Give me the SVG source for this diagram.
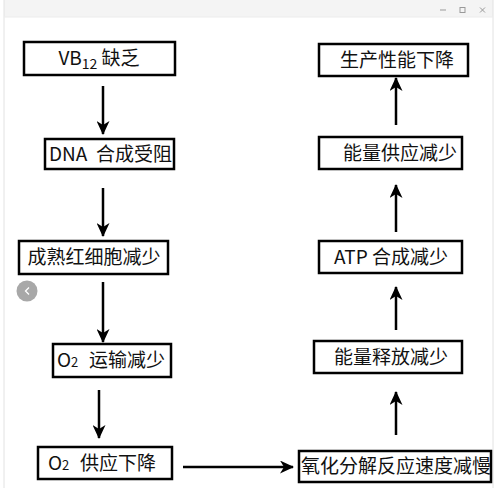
<svg xmlns="http://www.w3.org/2000/svg" width="499" height="488" viewBox="0 0 499 488">
<defs>
<marker id="ah" viewBox="0 0 14 13" refX="13" refY="6.5" markerWidth="14" markerHeight="13" markerUnits="userSpaceOnUse" orient="auto">
<path d="M0,0 L14,6.5 L0,13 L4,6.5 Z" fill="#000"/>
</marker>
<style>
.box{fill:#fff;stroke:#000;stroke-width:2.5}
.t{font-family:"Noto Sans CJK SC","Noto Sans",sans-serif;font-size:19px;fill:#111;text-anchor:middle}
.s{text-anchor:start}
.c{stroke:#000;stroke-width:2.5;fill:none;marker-end:url(#ah)}
</style>
</defs>
<rect x="0" y="0" width="499" height="488" fill="#fff"/>
<g id="window">
<rect x="4" y="0" width="489" height="17" fill="#f4f4f4"/>
<line x1="4" y1="0" x2="4" y2="488" stroke="#e2e2e2" stroke-width="1"/>
<line x1="493" y1="0" x2="493" y2="488" stroke="#e2e2e2" stroke-width="1"/>
<line x1="4" y1="17" x2="493" y2="17" stroke="#ececec" stroke-width="1"/>
<line x1="440" y1="10" x2="446" y2="10" stroke="#999" stroke-width="1"/>
<rect x="460" y="7.5" width="5" height="5" fill="none" stroke="#999" stroke-width="1"/>
<path d="M480,7.5 L485,12.5 M485,7.5 L480,12.5" stroke="#999" stroke-width="1"/>
<circle cx="27" cy="291" r="10.5" fill="#a8a8a8"/>
<path d="M29,287.5 L25.5,291 L29,294.5" fill="none" stroke="#fff" stroke-width="1.3"/>
</g>
<g id="connectors">
<line class="c" x1="103" y1="86" x2="103" y2="134"/>
<line class="c" x1="103" y1="188" x2="103" y2="236"/>
<line class="c" x1="103" y1="282" x2="103" y2="342"/>
<line class="c" x1="99" y1="390" x2="99" y2="438"/>
<line class="c" x1="183" y1="467" x2="293" y2="467"/>
<line class="c" x1="396" y1="435" x2="396" y2="392"/>
<line class="c" x1="396" y1="330" x2="396" y2="287"/>
<line class="c" x1="396" y1="232" x2="396" y2="185"/>
<line class="c" x1="396" y1="125" x2="396" y2="78"/>
</g>
<g id="n1">
<rect class="box" x="24" y="42" width="151" height="33"/>
<text class="t" x="99" y="65">VB<tspan font-size="14" dy="4">12</tspan><tspan dy="-4"> 缺乏</tspan></text>
</g>
<g id="n2">
<rect class="box" x="45" y="139" width="129" height="30"/>
<text class="t s" x="49" y="161" font-size="19.5">DNA<tspan x="96">合成受阻</tspan></text>
</g>
<g id="n3">
<rect class="box" x="19" y="241" width="149" height="33"/>
<text class="t" x="94" y="264">成熟红细胞减少</text>
</g>
<g id="n4">
<rect class="box" x="53" y="344" width="118" height="33"/>
<text class="t s" x="57" y="367">O<tspan font-size="13">2</tspan><tspan x="89">运输减少</tspan></text>
</g>
<g id="n5">
<rect class="box" x="38" y="447" width="134" height="32"/>
<text class="t s" x="48" y="470">O<tspan font-size="13">2</tspan><tspan x="80">供应下降</tspan></text>
</g>
<g id="n6">
<rect class="box" x="299" y="451" width="192" height="31"/>
<text class="t" x="396" y="473" font-size="18.3">氧化分解反应速度减慢</text>
</g>
<g id="n7">
<rect class="box" x="314" y="341" width="148" height="32"/>
<text class="t" x="391" y="364">能量释放减少</text>
</g>
<g id="n8">
<rect class="box" x="319" y="241" width="143" height="32"/>
<text class="t" x="391" y="264">ATP 合成减少</text>
</g>
<g id="n9">
<rect class="box" x="319" y="137" width="143" height="32"/>
<text class="t" x="400" y="160">能量供应减少</text>
</g>
<g id="n10">
<rect class="box" x="319" y="44" width="149" height="32"/>
<text class="t" x="397" y="67">生产性能下降</text>
</g>
</svg>
